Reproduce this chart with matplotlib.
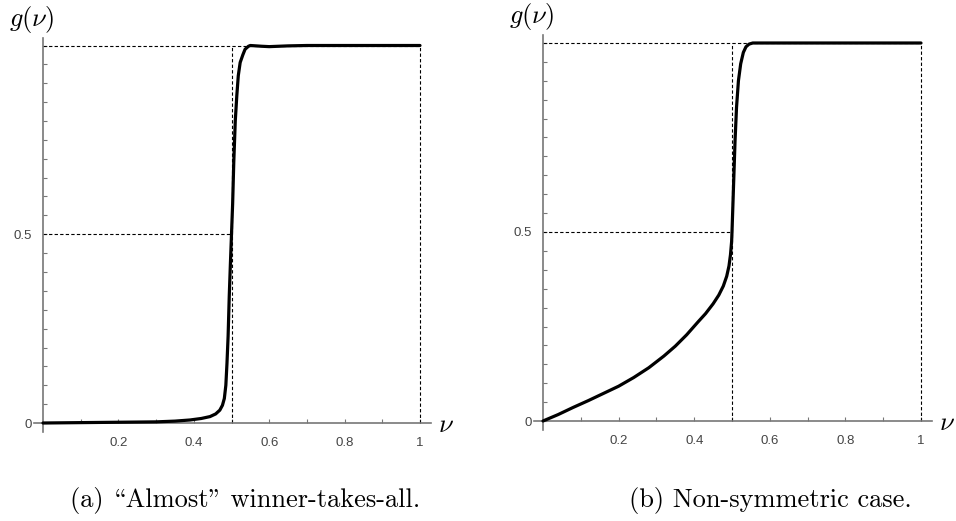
import numpy as np
import matplotlib
matplotlib.use("Agg")
import matplotlib.pyplot as plt

# curve (a): "almost" winner-takes-all
nu_a = [0, 0.1, 0.2, 0.3, 0.35, 0.39, 0.42, 0.443, 0.458, 0.469, 0.476, 0.481, 0.485,
        0.488, 0.491, 0.494, 0.497, 0.5, 0.503, 0.506, 0.51, 0.514, 0.518, 0.523,
        0.53, 0.536, 0.545, 0.55, 0.58, 0.6, 0.65, 0.7, 0.8, 1.0]
g_a = [0, 0.001, 0.002, 0.003, 0.005, 0.008, 0.012, 0.017, 0.024, 0.034, 0.047, 0.065,
       0.1, 0.158, 0.23, 0.335, 0.42, 0.5, 0.58, 0.69, 0.8, 0.866, 0.92, 0.955,
       0.975, 0.99, 0.998, 1.0, 0.998, 0.997, 0.999, 1.0, 1.0, 1.0]

# curve (b): non-symmetric case
nu_b = [0, 0.04, 0.08, 0.12, 0.16, 0.2, 0.24, 0.28, 0.32, 0.35, 0.38, 0.41, 0.43,
        0.45, 0.465, 0.477, 0.486, 0.492, 0.496, 0.499, 0.5, 0.502, 0.505, 0.508,
        0.512, 0.517, 0.523, 0.53, 0.537, 0.545, 0.555, 0.6, 1.0]
g_b = [0, 0.017, 0.036, 0.054, 0.073, 0.092, 0.115, 0.141, 0.172, 0.198, 0.228, 0.262,
       0.284, 0.31, 0.333, 0.357, 0.383, 0.41, 0.44, 0.475, 0.5, 0.56, 0.65, 0.74,
       0.83, 0.9, 0.945, 0.975, 0.99, 0.997, 1.0, 1.0, 1.0]

x_ticks = [0.2, 0.4, 0.6, 0.8, 1.0]
x_labels = ["0.2", "0.4", "0.6", "0.8", "1"]
y_ticks = [0, 0.5]
y_labels = ["0", "0.5"]
# cmr10 keeps TeX's OT1 layout: "\" is the opening and '"' the closing double quote
captions = ['(a) \\Almost" winner-takes-all.', "(b) Non-symmetric case."]

W, H = 956, 521
fig = plt.figure(figsize=(W / 100, H / 100), dpi=100)

XMIN, XMAX, YMIN, YMAX = -0.1, 1.12, -0.1, 1.12


def make_axes(x0_px, y0_px, sx, sy):
    # x0_px, y0_px: pixel position of the data origin (from top-left)
    left = x0_px + XMIN * sx
    bottom = (H - y0_px) + YMIN * sy
    return fig.add_axes([left / W, bottom / H, (XMAX - XMIN) * sx / W, (YMAX - YMIN) * sy / H])


def draw_panel(ax, nu, g, caption, cap_x):
    ax.set_xlim(XMIN, XMAX)
    ax.set_ylim(YMIN, YMAX)
    ax.patch.set_visible(False)
    for s in ["top", "right"]:
        ax.spines[s].set_visible(False)
    for s in ["left", "bottom"]:
        ax.spines[s].set_position(("data", 0))
        ax.spines[s].set_color("#777777")
        ax.spines[s].set_linewidth(1.2)
    ax.spines["bottom"].set_bounds(-0.025, 1.03)
    ax.spines["left"].set_bounds(-0.025, 1.02)

    ax.set_xticks(x_ticks)
    ax.set_xticklabels(x_labels)
    ax.set_xticks(np.arange(0.1, 1.0, 0.2), minor=True)
    ax.set_yticks(y_ticks)
    ax.set_yticklabels(y_labels)
    ax.set_yticks(np.arange(0.05, 1.01, 0.05), minor=True)
    ax.tick_params(which="both", direction="in", length=3, width=0.8, color="#777777",
                   labelsize=9.5, labelcolor="#444444")
    ax.tick_params(axis="x", pad=10)
    ax.tick_params(axis="y", pad=8)
    for lab in ax.get_xticklabels() + ax.get_yticklabels():
        lab.set_family("Liberation Sans")

    dash = dict(color="black", lw=0.8, ls=(0, (3, 2)))
    ax.plot([0, 1], [1, 1], **dash)
    ax.plot([1, 1], [0, 1], **dash)
    ax.plot([0.5, 0.5], [0, 1], **dash)
    ax.plot([0, 0.5], [0.5, 0.5], **dash)

    ax.plot(nu, g, color="black", lw=2.3, solid_capstyle="round", solid_joinstyle="round",
            zorder=5)

    ax.text(-0.03, 1.07, r"$g(\nu)$", fontsize=19, ha="center", va="center", clip_on=False)
    ax.text(1.07, -0.005, r"$\nu$", fontsize=19, ha="center", va="center", clip_on=False)

    fig.text(cap_x / W, 1 - 500 / H, caption, fontsize=19, ha="center", va="center",
             family="cmr10")


plt.rcParams["mathtext.fontset"] = "cm"

ax1 = make_axes(43, 423, 377, 377.5)
draw_panel(ax1, nu_a, g_a, captions[0], 245)
ax2 = make_axes(543, 421, 378, 378)
draw_panel(ax2, nu_b, g_b, captions[1], 770)

fig.savefig("out.png", dpi=100)
